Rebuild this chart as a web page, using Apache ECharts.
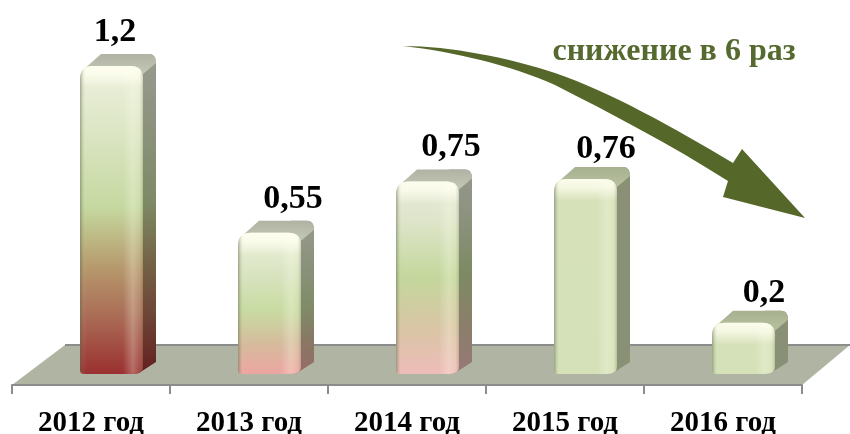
<!DOCTYPE html>
<html>
<head>
<meta charset="utf-8">
<style>html,body{margin:0;background:#fff}#main{width:850px;height:434px}</style>
<script src="https://cdn.jsdelivr.net/npm/echarts@6/dist/echarts.min.js"></script>
</head>
<body>
<div id="main"></div>
<script>
var categories = ['2012 год', '2013 год', '2014 год', '2015 год', '2016 год']
var values = [1.2, 0.55, 0.75, 0.76, 0.2]
var note = 'снижение в 6 раз'

// цвета лицевой грани каждого столбика, сверху вниз
var barColors = [
  [[0, '#eef2de'], [0.2, '#dde6c6'], [0.46, '#c5d8a0'], [0.56, '#bdb884'], [0.66, '#b6976c'], [0.82, '#aa6a55'], [1, '#9a3030']],
  [[0, '#eef2de'], [0.3, '#d8e3bf'], [0.55, '#c8dba2'], [0.78, '#d5bc9c'], [1, '#eda5a2']],
  [[0, '#e8ecda'], [0.2, '#dee5ca'], [0.5, '#c4d79c'], [0.75, '#d8c6a4'], [1, '#eebcb9']],
  [[0, '#d6e1b9'], [1, '#d5e1b8']],
  [[0, '#d6e1b9'], [1, '#d5e1b8']]
]
// подписи в оригинале расставлены вручную
var labelShift = [24, 44, 44, 41, 41]
var labelRise = [6, 6, 6, 2, 1]

var font = '"Liberation Serif", "Times New Roman", serif'
var depth = 13
var LG = echarts.graphic.LinearGradient

// стрелка рисуется как своя фигура, в graphic нет типа path
echarts.graphic.registerShape('trendArrow', echarts.graphic.extendPath(
  'M403 46C450 46 510 58 555 73C610 92 673 127 733 163L742 149L805 218L723 197L728 181' +
  'C670 144 610 113 555 85C510 65 455 52 403 46Z', {}
))

// затемнение цвета для боковой грани
function dim(hex, k) {
  var n = parseInt(hex.slice(1), 16)
  return 'rgb(' + Math.round((n >> 16) * k) + ',' + Math.round(((n >> 8) & 255) * k) + ',' + Math.round((n & 255) * k) + ')'
}

function frontPath(l, r, t, b) {
  var rad = Math.min(13, (b - t) / 3)
  return 'M' + l + ' ' + (t + rad) + 'Q' + l + ' ' + t + ' ' + (l + rad) + ' ' + t +
    'L' + (r - rad) + ' ' + t + 'Q' + r + ' ' + t + ' ' + r + ' ' + (t + rad) +
    'L' + r + ' ' + (b - 7) + 'Q' + r + ' ' + b + ' ' + (r - 10) + ' ' + b +
    'L' + (l + 4) + ' ' + b + 'Q' + l + ' ' + b + ' ' + l + ' ' + (b - 4) + 'Z'
}

function renderBar(params, api) {
  var i = api.value(0)
  var top = api.coord([i, api.value(1)])
  var base = api.coord([i, 0])
  var l = top[0] - 11, r = top[0] + 52, t = top[1], b = base[1]
  var stops = barColors[i]
  var d = frontPath(l, r, t, b)
  var sideStops = stops.map(function (s) {
    return { offset: s[0], color: dim(s[1], 0.64) }
  })
  var frontStops = stops.map(function (s) { return { offset: s[0], color: s[1] } })
  return {
    type: 'group',
    children: [
      { // боковая грань
        type: 'path',
        shape: {
          pathData: 'M' + (r - 10) + ' ' + (t - 12) + 'L' + (r + depth - 7) + ' ' + (t - 12) +
            'Q' + (r + depth) + ' ' + (t - 12) + ' ' + (r + depth) + ' ' + (t - 3) +
            'L' + (r + depth) + ' ' + (b - 12) + 'L' + (r - 4) + ' ' + (b - 1) + 'L' + (r - 10) + ' ' + b + 'Z'
        },
        style: { fill: new LG(0, t - 12, 0, b, sideStops, true) }
      },
      { // верхняя грань
        type: 'path',
        shape: {
          pathData: 'M' + (l + 3) + ' ' + (t + 4) + 'L' + (l + 21) + ' ' + (t - 12) +
            'L' + (r + depth - 7) + ' ' + (t - 12) + 'Q' + (r + depth) + ' ' + (t - 12) + ' ' + (r + depth) + ' ' + (t - 3) +
            'L' + r + ' ' + (t + 8) + 'Z'
        },
        style: { fill: new LG(0, t - 12, 0, t + 4, [
          { offset: 0, color: i > 2 ? '#a7b18f' : '#b0b3a3' },
          { offset: 1, color: i > 2 ? '#b4be9c' : '#c0c4b2' }
        ], true) }
      },
      { type: 'path', shape: { pathData: d }, style: { fill: new LG(0, t, 0, b, frontStops, true) } },
      { // блик сверху
        type: 'path',
        shape: { pathData: d },
        style: { fill: new LG(0, t, 0, t + 22, [
          { offset: 0, color: 'rgba(255,255,240,0.9)' },
          { offset: 0.4, color: 'rgba(255,255,240,0.75)' },
          { offset: 1, color: 'rgba(255,255,240,0)' }
        ], true) }
      },
      { // скругление по бокам
        type: 'path',
        shape: { pathData: d },
        style: { fill: new LG(l, 0, r, 0, [
          { offset: 0, color: 'rgba(90,100,70,0.5)' },
          { offset: 0.05, color: 'rgba(120,130,100,0.12)' },
          { offset: 0.1, color: 'rgba(255,255,255,0)' },
          { offset: 0.68, color: 'rgba(255,255,255,0)' },
          { offset: 0.84, color: 'rgba(255,255,235,0.28)' },
          { offset: 0.94, color: 'rgba(255,255,235,0.12)' },
          { offset: 1, color: 'rgba(90,100,70,0.25)' }
        ], true) }
      },
      { // подпись значения
        type: 'text',
        style: {
          text: String(api.value(1)).replace('.', ','),
          x: top[0] + labelShift[i],
          y: t - 28 - labelRise[i],
          fill: '#000',
          font: 'bold 34px ' + font,
          align: 'center',
          verticalAlign: 'middle'
        }
      }
    ]
  }
}

var chart = echarts.init(document.getElementById('main'))
chart.setOption({
  animation: false,
  backgroundColor: '#fff',
  grid: { left: 12, right: 48, top: 66, bottom: 60, outerBoundsMode: 'none' },
  xAxis: {
    type: 'category',
    data: categories,
    offset: 11,
    axisLine: { onZero: false, lineStyle: { color: '#8c8c8c', width: 2 } },
    axisTick: { show: true, length: 9, lineStyle: { color: '#8c8c8c', width: 2 } },
    axisLabel: { interval: 0, margin: 24, color: '#000', fontFamily: font, fontWeight: 'bold', fontSize: 29 }
  },
  yAxis: { type: 'value', min: 0, max: 1.2, show: false, splitLine: { show: false } },
  graphic: [
    { // пол диаграммы
      type: 'polygon',
      z: 0,
      shape: { points: [[12, 385], [65, 345], [850, 345], [802, 385]] },
      style: { fill: '#b0b5a3' }
    },
    { type: 'line', z: 0, shape: { x1: 65, y1: 345, x2: 850, y2: 345 }, style: { stroke: '#8c8c8c', lineWidth: 2 } },
    { type: 'trendArrow', z: 10, style: { fill: '#556729' } },
    {
      type: 'text',
      z: 10,
      style: { text: note, x: 674, y: 52, fill: '#566a30', font: 'bold 32px ' + font, align: 'center', verticalAlign: 'middle' }
    }
  ],
  series: [{
    type: 'custom',
    renderItem: renderBar,
    encode: { x: 0, y: 1 },
    data: values.map(function (v, i) { return [i, v] })
  }]
})
</script>
</body>
</html>
